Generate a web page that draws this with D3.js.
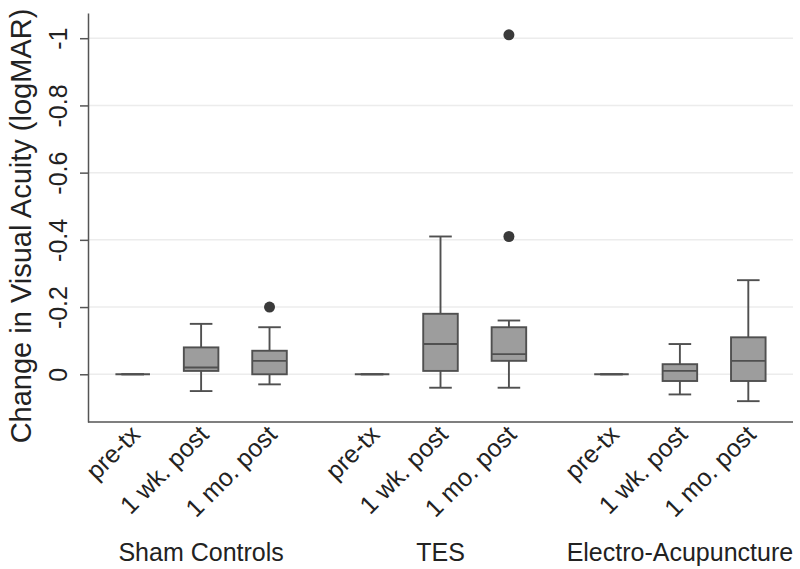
<!DOCTYPE html>
<html>
<head>
<meta charset="utf-8">
<script src="https://cdn.jsdelivr.net/npm/d3@7"></script>
<style>
  html, body { margin: 0; padding: 0; background: #fff; }
  svg { display: block; }
  text { font-family: "Liberation Sans", Arial, Helvetica, sans-serif; fill: #222; }
</style>
</head>
<body>
<svg id="chart" width="800" height="569"></svg>
<script>
// ---- data ----
const groups = ["Sham Controls", "TES", "Electro-Acupuncture"];
const timepoints = ["pre-tx", "1 wk. post", "1 mo. post"];
// per group, per timepoint (change in logMAR; negative = improvement)
const whiskerLow  = [[0, 0.05, 0.03], [0, 0.04, 0.04], [0, 0.06, 0.08]];
const quartile1   = [[0, -0.01, 0.00], [0, -0.01, -0.04], [0, 0.02, 0.02]];
const medians     = [[0, -0.02, -0.04], [0, -0.09, -0.06], [0, -0.01, -0.04]];
const quartile3   = [[0, -0.08, -0.07], [0, -0.18, -0.14], [0, -0.03, -0.11]];
const whiskerHigh = [[0, -0.15, -0.14], [0, -0.41, -0.16], [0, -0.09, -0.28]];
const outliers    = [[[], [], [-0.2]], [[], [], [-0.41, -1.01]], [[], [], []]];
const yTicks = [0, -0.2, -0.4, -0.6, -0.8, -1];
const yTickLabels = ["0", "-0.2", "-0.4", "-0.6", "-0.8", "-1"];
const yTitle = "Change in Visual Acuity (logMAR)";

// ---- layout ----
const svg = d3.select("#chart");
const mLeft = 88, mRight = 793, mTop = 13, mBottom = 422;
const FONT = 25;

const x0 = d3.scaleBand().domain(groups).range([mLeft, mRight])
  .paddingInner(0.1426).paddingOuter(0.0438);
const x1 = d3.scaleBand().domain(timepoints).range([0, x0.bandwidth()]).padding(0);
const y = d3.scaleLinear().domain([0.142, -1.075]).range([mBottom, mTop]);

const boxW = x1.step() * 0.505;
const capW = x1.step() * 0.165;

// gridlines
svg.append("g").selectAll("line").data(yTicks).join("line")
  .attr("x1", mLeft).attr("x2", mRight)
  .attr("y1", d => y(d)).attr("y2", d => y(d))
  .attr("stroke", "#ececec").attr("stroke-width", 1.5);

// y axis
const yAxis = svg.append("g").attr("transform", `translate(${mLeft},0)`)
  .call(d3.axisLeft(y).tickValues(yTicks).tickSize(8).tickSizeOuter(0)
    .tickFormat((d, i) => yTickLabels[i]));
yAxis.select(".domain").attr("stroke", "#555").attr("stroke-width", 1.5);
yAxis.selectAll(".tick line").attr("stroke", "#555").attr("stroke-width", 1.5);
yAxis.selectAll(".tick text")
  .attr("transform", "rotate(-90)")
  .attr("x", 0).attr("y", -21).attr("dy", 0)
  .attr("text-anchor", "middle")
  .style("font-size", FONT + "px")
  .style("font-family", '"Liberation Sans", Arial, sans-serif')
  .attr("fill", "#222");

// x axis line
svg.append("line")
  .attr("x1", x0.range()[0]).attr("x2", x0.range()[1])
  .attr("y1", mBottom).attr("y2", mBottom)
  .attr("stroke", "#555").attr("stroke-width", 1.5);

// y title
svg.append("text")
  .attr("transform", `translate(31,226) rotate(-90)`)
  .attr("text-anchor", "middle")
  .style("font-size", "29px")
  .text(yTitle);

// boxes
const items = [];
groups.forEach((g, gi) => timepoints.forEach((t, ti) => {
  items.push({
    g, t, cx: x0(g) + x1(t) + x1.bandwidth() / 2,
    lo: whiskerLow[gi][ti], q1: quartile1[gi][ti], med: medians[gi][ti],
    q3: quartile3[gi][ti], hi: whiskerHigh[gi][ti], out: outliers[gi][ti]
  });
}));

const stroke = "#505050", sw = 1.9;
const bx = svg.append("g").selectAll("g").data(items).join("g");

// whiskers
bx.append("line")
  .attr("x1", d => d.cx).attr("x2", d => d.cx)
  .attr("y1", d => y(d.lo)).attr("y2", d => y(d.q1))
  .attr("stroke", stroke).attr("stroke-width", sw);
bx.append("line")
  .attr("x1", d => d.cx).attr("x2", d => d.cx)
  .attr("y1", d => y(d.q3)).attr("y2", d => y(d.hi))
  .attr("stroke", stroke).attr("stroke-width", sw);
bx.append("line")
  .attr("x1", d => d.cx - capW).attr("x2", d => d.cx + capW)
  .attr("y1", d => y(d.lo)).attr("y2", d => y(d.lo))
  .attr("stroke", stroke).attr("stroke-width", sw);
bx.append("line")
  .attr("x1", d => d.cx - capW).attr("x2", d => d.cx + capW)
  .attr("y1", d => y(d.hi)).attr("y2", d => y(d.hi))
  .attr("stroke", stroke).attr("stroke-width", sw);
// box
bx.append("rect")
  .attr("x", d => d.cx - boxW / 2).attr("width", boxW)
  .attr("y", d => y(Math.min(d.q3, d.q1)))
  .attr("height", d => Math.abs(y(d.q1) - y(d.q3)))
  .attr("fill", "#9d9d9d").attr("stroke", stroke).attr("stroke-width", sw);
// median
bx.append("line")
  .attr("x1", d => d.cx - boxW / 2).attr("x2", d => d.cx + boxW / 2)
  .attr("y1", d => y(d.med)).attr("y2", d => y(d.med))
  .attr("stroke", stroke).attr("stroke-width", sw);
// outliers
bx.selectAll("circle").data(d => d.out.map(v => ({ v, cx: d.cx }))).join("circle")
  .attr("cx", d => d.cx).attr("cy", d => y(d.v)).attr("r", 5.5)
  .attr("fill", "#3a3a3a");

// x tick labels (rotated)
svg.append("g").selectAll("text").data(items).join("text")
  .attr("transform", d => `translate(${d.cx + 9},${mBottom + 14}) rotate(-45)`)
  .attr("text-anchor", "end")
  .style("font-size", FONT + "px")
  .text(d => d.t);

// group labels
svg.append("g").selectAll("text").data(groups).join("text")
  .attr("x", d => x0(d) + x0.bandwidth() / 2)
  .attr("y", 561)
  .attr("text-anchor", "middle")
  .style("font-size", FONT + "px")
  .text(d => d);
</script>
</body>
</html>
